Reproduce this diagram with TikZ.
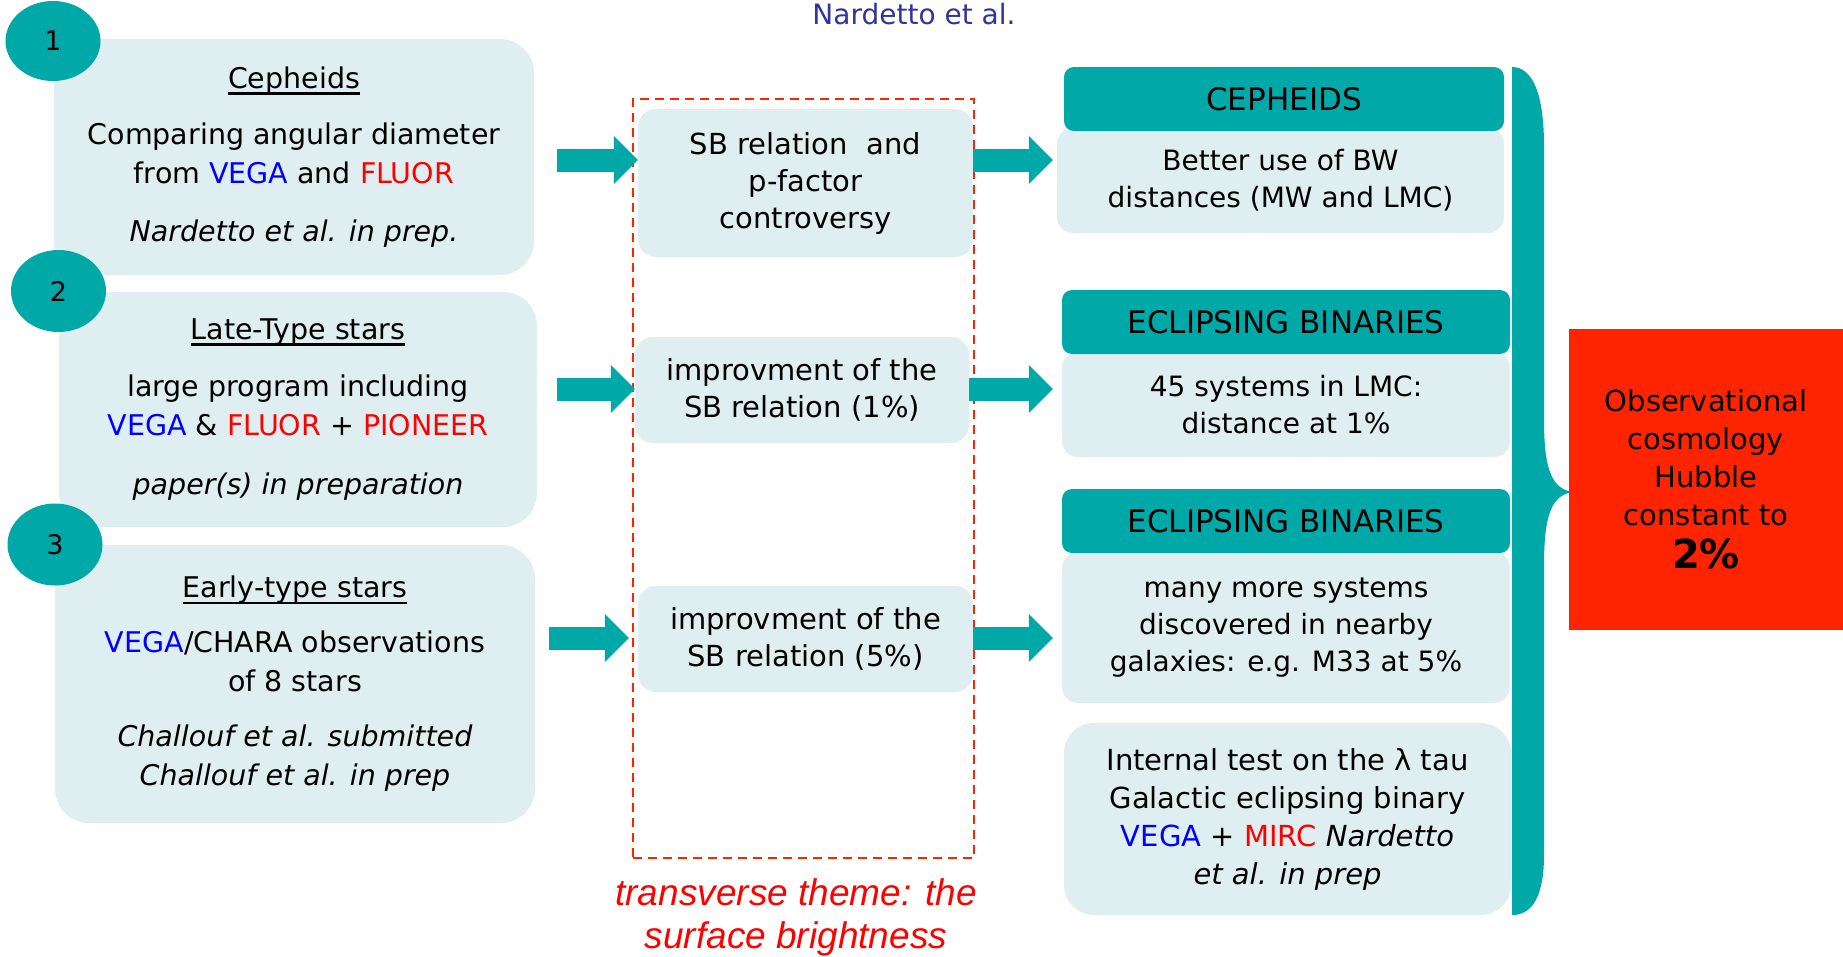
\documentclass[tikz,border=0pt]{standalone}
\usepackage{fontspec}
\setmainfont{DejaVu Sans}
\newfontfamily\themefont{Liberation Sans}
\usetikzlibrary{arrows.meta,shapes.geometric}
\definecolor{slideteal}{RGB}{0,168,168}
\definecolor{paleteal}{RGB}{223,239,241}
\definecolor{hubred}{RGB}{255,36,0}
\definecolor{vegablue}{RGB}{0,0,255}
\definecolor{instred}{RGB}{255,0,0}
\definecolor{authblue}{RGB}{51,51,153}
\newcommand{\vega}{\textcolor{vegablue}{VEGA}}
\newcommand{\inst}[1]{\textcolor{instred}{#1}}
\newcommand{\topic}[1]{\setbox0=\hbox{#1}\rlap{\rule[-6.5pt]{\wd0}{2.8pt}}\box0}
\tikzset{
  srcbox/.style    = {fill=paleteal, rounded corners=34pt, inner sep=0pt,
                      align=center, font=\fontsize{28.5}{39}\selectfont},
  numdot/.style    = {ellipse, fill=slideteal, inner sep=0pt, minimum width=95pt,
                      minimum height=80pt, font=\fontsize{27}{30}\selectfont},
  sbbox/.style     = {fill=paleteal, rounded corners=18pt, inner sep=0pt,
                      align=center, font=\fontsize{29}{37}\selectfont},
  reshead/.style   = {fill=slideteal, rounded corners=10pt, inner sep=0pt,
                      minimum height=64pt, font=\fontsize{31}{34}\selectfont},
  resbody/.style   = {fill=paleteal, rounded corners=16pt, inner sep=0pt,
                      align=center, font=\fontsize{28}{37}\selectfont},
  themeframe/.style = {draw=hubred, line width=2pt, dash pattern=on 9pt off 6pt,
                      minimum width=341pt, minimum height=759pt, inner sep=0pt},
  fatar/.style     = {-{Triangle[length=24pt,width=48pt,line width=0pt]},
                      slideteal, line width=23pt}
}

\begin{document}
\begin{tikzpicture}[x=1pt,y=-1pt]
  \path[use as bounding box, fill=white] (0,0) rectangle (1843,956);
  \node[anchor=base, text=authblue, font=\fontsize{28}{30}\selectfont] (auth) at (914,24) {Nardetto et al.};

  % three source programmes
  \node[srcbox, minimum width=480pt, minimum height=236pt] (cep) at (294,157)
    {\topic{Cepheids}\\[17pt]
     Comparing angular diameter\\
     from \vega{} and \inst{FLUOR}\\[19pt]
     \textit{Nardetto et al. in prep.}};
  \node[srcbox, minimum width=478pt, minimum height=235pt] (late) at (298,409.5)
    {\topic{Late-Type stars}\\[18pt]
     large program including\\
     \vega{} \& \inst{FLUOR} + \inst{PIONEER}\\[20pt]
     \textit{paper(s) in preparation}};
  \node[srcbox, minimum width=480pt, minimum height=278pt] (early) at (295,684)
    {\topic{Early-type stars}\\[16pt]
     \vega/CHARA observations\\
     of 8 stars\\[16pt]
     \textit{Challouf et al. submitted}\\
     \textit{Challouf et al. in prep}};
  \node[numdot] (n1) at (53,41) {1};
  \node[numdot, minimum height=82pt] (n2) at (58.5,291) {2};
  \node[numdot, minimum height=82pt] (n3) at (55,544.5) {3};

  % surface brightness column
  \node[sbbox, minimum width=335pt, minimum height=148pt] (sbA) at (805.5,183)
    {SB relation\ \ and\\p-factor\\controversy};
  \node[sbbox, minimum width=334pt, minimum height=106pt] (sbB) at (802,390)
    {improvment of the\\SB relation (1\%)};
  \node[sbbox, minimum width=335pt, minimum height=106pt] (sbC) at (805.5,639)
    {improvment of the\\SB relation (5\%)};
  \node[themeframe] (frame) at (803.5,478.5) {};
  \node[align=center, text=instred, font=\themefont\itshape\fontsize{37}{43}\selectfont]
    (theme) at (796,917) {transverse theme: the\\surface brightness};

  % distance indicators
  \node[resbody, minimum width=447pt, minimum height=105pt] (bw) at (1280.5,180.5)
    {Better use of BW\\distances (MW and LMC)};
  \node[reshead, minimum width=440pt] (hcep) at (1284,99) {CEPHEIDS};
  \node[resbody, minimum width=448pt, minimum height=105pt] (lmc) at (1286,404.5)
    {45 systems in LMC:\\distance at 1\%};
  \node[reshead, minimum width=448pt] (heb1) at (1286,322) {ECLIPSING BINARIES};
  \node[resbody, minimum width=448pt, minimum height=151pt] (m33) at (1286,627.5)
    {many more systems\\discovered in nearby\\galaxies: e.g. M33 at 5\%};
  \node[reshead, minimum width=448pt] (heb2) at (1286,521) {ECLIPSING BINARIES};
  \node[resbody, rounded corners=30pt, minimum width=447pt, minimum height=192pt,
        font=\fontsize{29}{38}\selectfont] (ltau) at (1287.5,819)
    {Internal test on the λ tau\\Galactic eclipsing binary\\
     \vega{} + \inst{MIRC} \textit{Nardetto}\\\textit{et al. in prep}};

  % brace and goal
  \fill[slideteal] (1512,67) .. controls (1533,67) and (1544,95) .. (1544,146)
    -- (1544,420) .. controls (1544,470) and (1552,490) .. (1574,492)
    .. controls (1552,494) and (1544,514) .. (1544,565)
    -- (1544,855) .. controls (1544,895) and (1533,915) .. (1512,915) -- cycle;
  \node[fill=hubred, minimum width=274pt, minimum height=301pt, inner sep=0pt,
        align=center, font=\fontsize{29}{38}\selectfont] (hub) at (1706,479.5)
    {Observational\\cosmology\\Hubble\\constant to\\[5pt]{\fontsize{40}{42}\selectfont\bfseries 2\%}};

  % arrows
  \coordinate (in1) at (557,160);
  \coordinate (in2) at (557,389);
  \coordinate (in3) at (549,638);
  \draw[fatar] (in1) -- (sbA.west |- in1);
  \draw[fatar] (in2) -- (sbB.west |- in2);
  \draw[fatar, shorten >=9pt] (in3) -- (sbC.west |- in3);
  \draw[fatar, shorten >=4pt] (sbA.east |- in1) -- (bw.west |- in1);
  \draw[fatar, shorten >=9pt] (sbB.east |- in2) -- (lmc.west |- in2);
  \draw[fatar, shorten >=9pt] (sbC.east |- in3) -- (m33.west |- in3);
\end{tikzpicture}
\end{document}
